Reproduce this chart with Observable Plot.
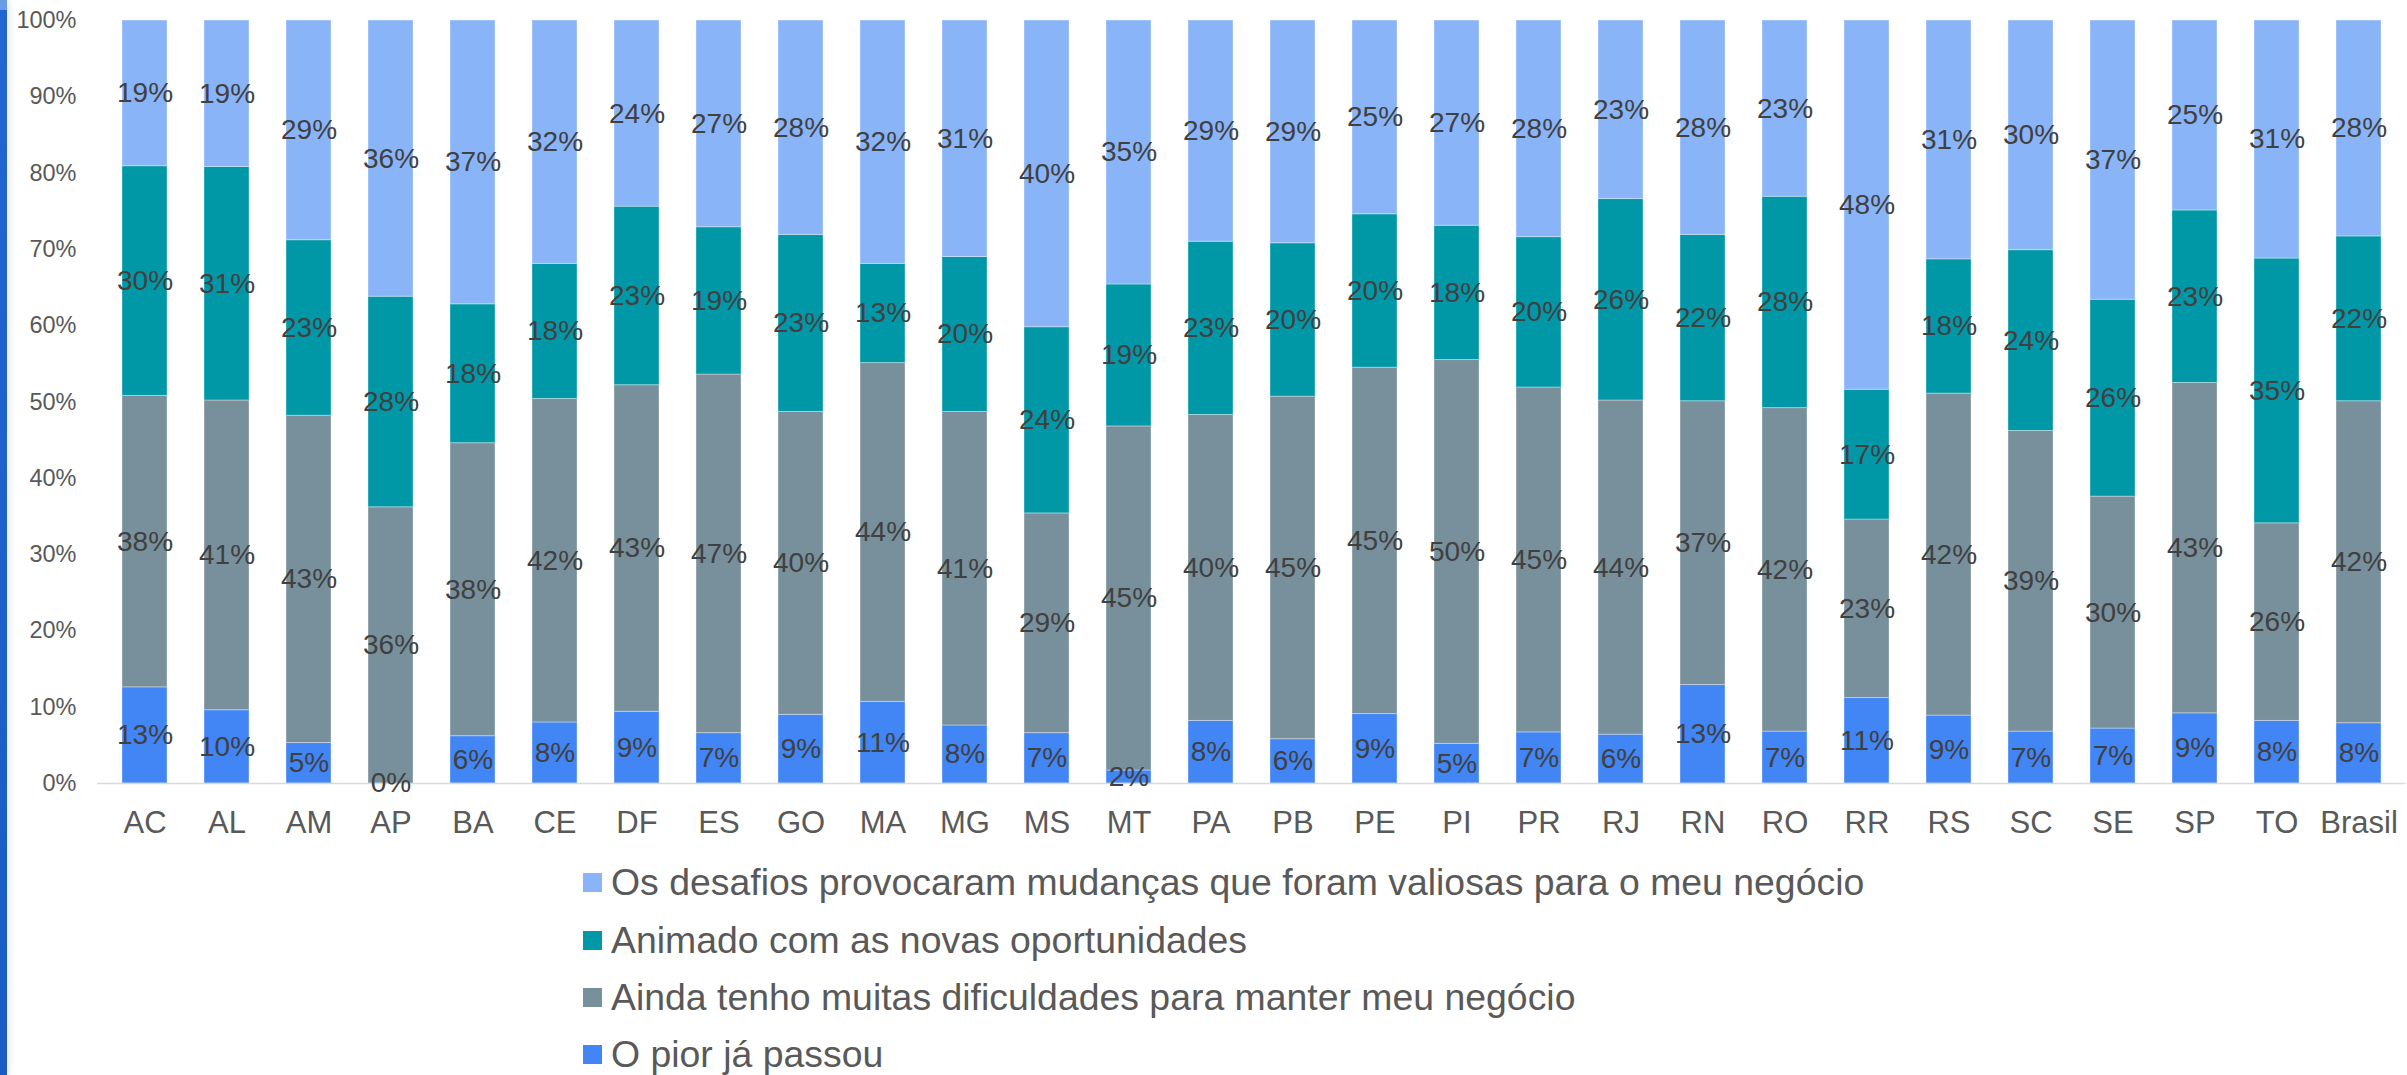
<!DOCTYPE html>
<html><head><meta charset="utf-8">
<script src="https://cdn.jsdelivr.net/npm/d3@7"></script>
<script src="https://cdn.jsdelivr.net/npm/@observablehq/plot@0.6"></script>
<style>
body{margin:0;background:#fff;font-family:"Liberation Sans",Arial,sans-serif;}
#wrap{position:relative;width:2407px;height:1075px;overflow:hidden;}
#strip{position:absolute;left:0;top:0;width:7px;height:1075px;background:linear-gradient(#6a9be6 0 10px,#2166d2 10px,#1a5bc4);box-shadow:3px 0 6px rgba(40,100,200,0.12);}
#legend{position:absolute;left:583px;top:854px;}
.row{height:57.4px;display:flex;align-items:center;font-size:37.4px;color:#595959;white-space:nowrap;}
.sw{width:19px;height:19px;margin-right:9px;flex:none;}
</style></head><body>
<div id="wrap"><div id="chart"></div><div id="legend"></div><div id="strip"></div></div>
<script>
const categories = ["AC","AL","AM","AP","BA","CE","DF","ES","GO","MA","MG","MS","MT","PA","PB","PE","PI","PR","RJ","RN","RO","RR","RS","SC","SE","SP","TO","Brasil"];
const pior         = [12.6, 9.6, 5.3, 0.0, 6.2, 8.0, 9.4, 6.6, 9.0, 10.7, 7.6, 6.6, 1.7, 8.2, 5.8, 9.1, 5.2, 6.7, 6.4, 12.9, 6.8, 11.2, 8.9, 6.8, 7.2, 9.2, 8.2, 7.9];
const dificuldades = [38.2, 40.6, 42.9, 36.2, 38.4, 42.4, 42.8, 47.0, 39.7, 44.4, 41.1, 28.8, 45.1, 40.1, 44.9, 45.4, 50.3, 45.2, 43.8, 37.2, 42.4, 23.4, 42.2, 39.4, 30.4, 43.3, 25.9, 42.2];
const animado      = [30.1, 30.6, 23.0, 27.6, 18.2, 17.7, 23.4, 19.3, 23.2, 13.0, 20.3, 24.4, 18.6, 22.7, 20.1, 20.1, 17.6, 19.7, 26.4, 21.8, 27.7, 17.0, 17.6, 23.7, 25.8, 22.6, 34.7, 21.6];
const desafios     = [19.1, 19.2, 28.8, 36.2, 37.2, 31.9, 24.4, 27.1, 28.1, 31.9, 31.0, 40.2, 34.6, 29.0, 29.2, 25.4, 26.9, 28.4, 23.4, 28.1, 23.1, 48.4, 31.3, 30.1, 36.6, 24.9, 31.2, 28.3];
const seriesNames = [
  "O pior já passou",
  "Ainda tenho muitas dificuldades para manter meu negócio",
  "Animado com as novas oportunidades",
  "Os desafios provocaram mudanças que foram valiosas para o meu negócio"
];
const seriesColors = ["#4285f4", "#78909c", "#0097a7", "#8ab4f8"];
const yTicks = [0, 10, 20, 30, 40, 50, 60, 70, 80, 90, 100];

const seriesValues = [pior, dificuldades, animado, desafios];
const rows = [];
seriesValues.forEach((vals, s) => {
  vals.forEach((v, i) => rows.push({cat: categories[i], series: seriesNames[s], value: v}));
});

const font = "Liberation Sans, Arial, sans-serif";
const chart = Plot.plot({
  width: 2407,
  height: 854,
  marginLeft: 97,
  marginRight: 1.5,
  marginTop: 20,
  marginBottom: 71,
  style: {fontFamily: font, background: "transparent", color: "#595959"},
  x: {domain: categories, paddingInner: 0.447, paddingOuter: 0.2235, label: null},
  y: {domain: [0, 100], label: null},
  color: {domain: seriesNames, range: seriesColors},
  marks: [
    Plot.barY(rows, {x: "cat", y: "value", fill: "series", stroke: "#ffffff", strokeOpacity: 0.35, strokeWidth: 1}),
    Plot.ruleY([0], {stroke: "#d9d9d9", strokeWidth: 1.5}),
    Plot.text(rows, Plot.stackY({x: "cat", y: "value", text: d => Math.round(d.value) + "%", fill: "#404040", fontSize: 28, fontFamily: font})),
    Plot.axisX({tickSize: 0, tickPadding: 27, fontSize: 31, color: "#595959", label: null}),
    Plot.axisY({ticks: yTicks, tickSize: 0, tickPadding: 21, fontSize: 23.5, color: "#595959", tickFormat: d => d + "%", label: null})
  ]
});
document.getElementById("chart").appendChild(chart);

const legend = document.getElementById("legend");
[3, 2, 1, 0].forEach(s => {
  const row = document.createElement("div");
  row.className = "row";
  const sw = document.createElement("span");
  sw.className = "sw";
  sw.style.background = seriesColors[s];
  const t = document.createElement("span");
  t.textContent = seriesNames[s];
  row.appendChild(sw);
  row.appendChild(t);
  legend.appendChild(row);
});
</script>
</body></html>
